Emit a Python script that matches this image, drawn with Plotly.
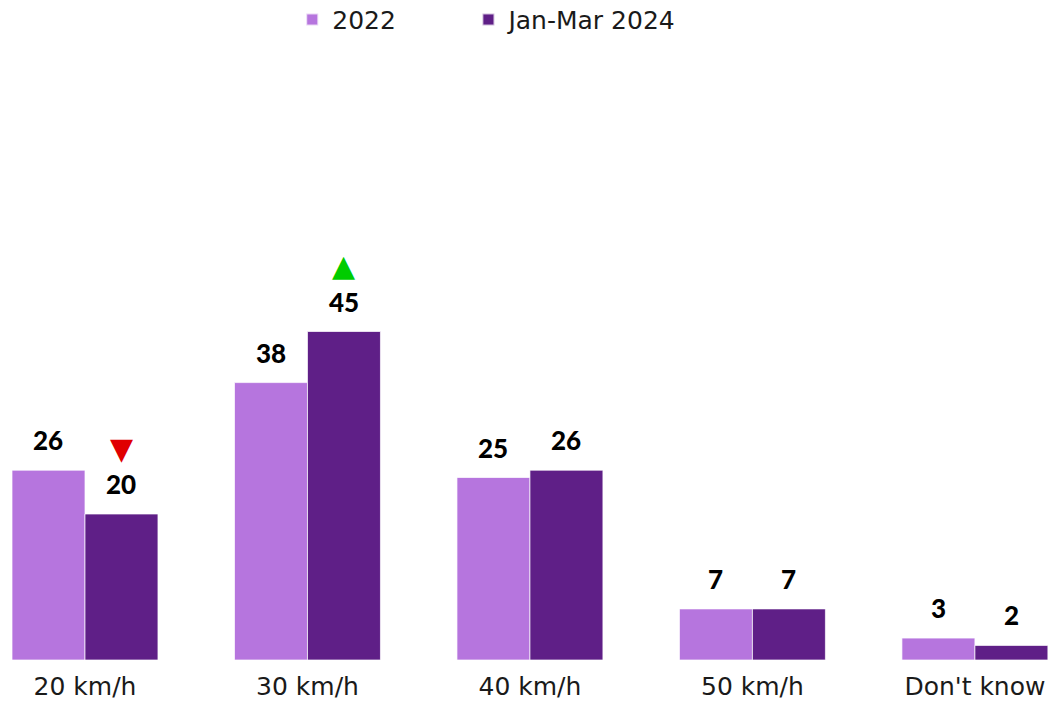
import plotly.graph_objects as go

# Speed-limit categories and survey shares (%)
categories = ["20 km/h", "30 km/h", "40 km/h", "50 km/h", "Don't know"]
series_names = ["2022", "Jan-Mar 2024"]
values_2022 = [26, 38, 25, 7, 3]
values_2024 = [20, 45, 26, 7, 2]
# Significant change markers for the latest wave: -1 down, +1 up, 0 none
change_2024 = [-1, 1, 0, 0, 0]

colors = ["#B675DE", "#5F1F87"]
text_font = "'DejaVu Sans', sans-serif"
value_font = "Lato, 'DejaVu Sans', sans-serif"

# Each series gets its own legend box so the two entries can be spaced freely
legend_ids = ["legend", "legend2"]
legend_x = [0.277, 0.444]

fig = go.Figure()
for name, vals, col, lg in zip(series_names, [values_2022, values_2024], colors, legend_ids):
    fig.add_trace(go.Bar(
        name=name, x=categories, y=vals, legend=lg,
        marker=dict(color=col, line=dict(color="rgba(255,255,255,0.7)", width=1)),
    ))

# Half the category spacing occupied by one bar, in pixels
bar_offset = 36.5

annotations = []
for i, cat in enumerate(categories):
    for sign, vals in ((-1, values_2022), (1, values_2024)):
        annotations.append(dict(
            x=cat, y=vals[i], text=str(vals[i]), showarrow=False,
            xshift=sign * bar_offset, yshift=30, yanchor="middle",
            font=dict(family=value_font, size=26, color="#000000", weight=900),
        ))
    if change_2024[i] != 0:
        up = change_2024[i] > 0
        annotations.append(dict(
            x=cat, y=values_2024[i], text="▲" if up else "▼", showarrow=False,
            xshift=bar_offset, yshift=66, yanchor="middle",
            font=dict(family="DejaVu Sans", size=30,
                      color="#00CC00" if up else "#E00000"),
        ))

legend_style = dict(
    orientation="h", xanchor="left", y=0.972, yanchor="middle",
    xref="container", yref="container",
    font=dict(family=text_font, size=25, color="#1a1a1a"),
    itemsizing="constant", itemwidth=30, bgcolor="rgba(0,0,0,0)",
)

fig.update_layout(
    width=1055, height=702,
    margin=dict(l=0, r=0, t=76, b=42),
    paper_bgcolor="white", plot_bgcolor="white",
    barmode="group", bargap=0.344, bargroupgap=0.0,
    showlegend=True,
    legend=dict(x=legend_x[0], **legend_style),
    legend2=dict(x=legend_x[1], **legend_style),
    xaxis=dict(
        range=[-0.382, 4.36], showgrid=False, showline=False, ticks="",
        tickfont=dict(family=text_font, size=25, color="#1a1a1a"),
        ticklabelstandoff=9,
    ),
    yaxis=dict(range=[0, 80], visible=False, showgrid=False, zeroline=False),
    annotations=annotations,
)

fig.write_html("out.html")
